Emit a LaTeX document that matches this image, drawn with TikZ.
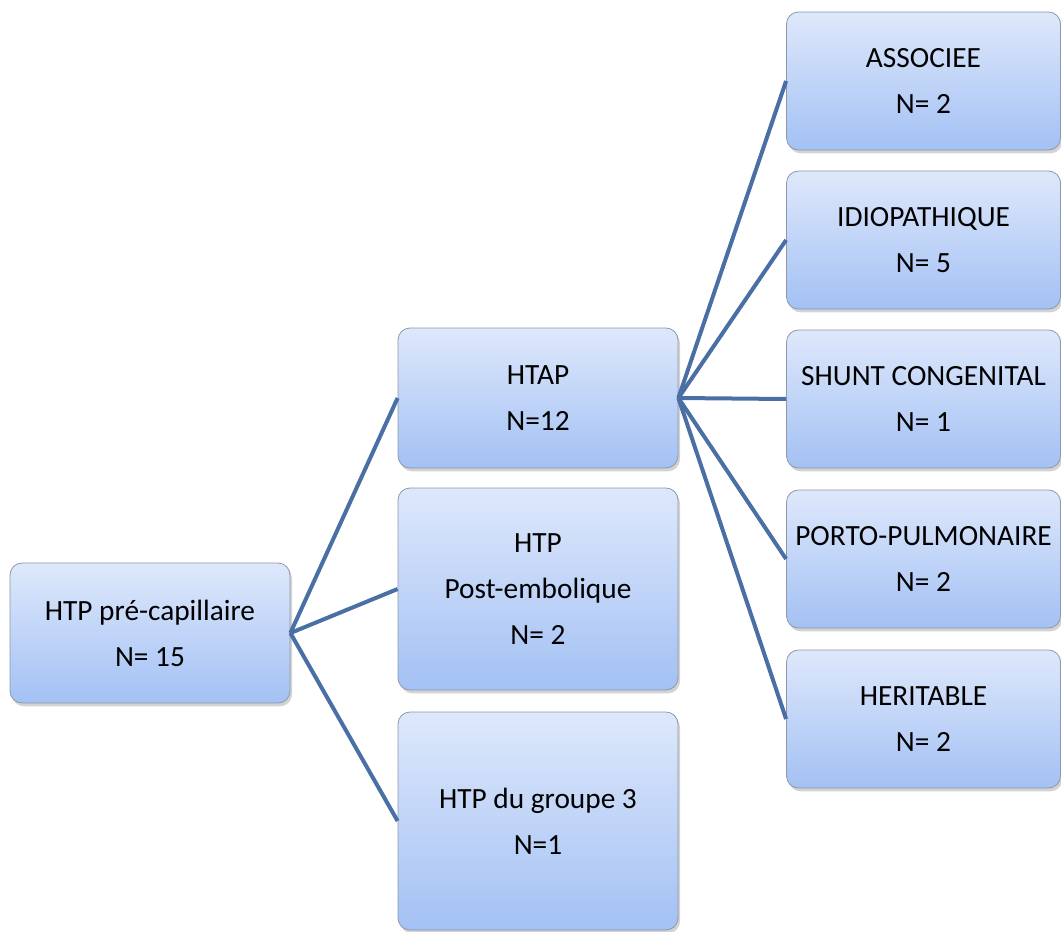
\documentclass[tikz,border=0pt]{standalone}
\usepackage{fontspec}
\setmainfont{Carlito}
\usepackage{xcolor}
\usetikzlibrary{shadows}

\definecolor{boxtop}{RGB}{222,232,251}
\definecolor{boxbot}{RGB}{163,193,244}
\definecolor{boxline}{RGB}{140,152,172}
\definecolor{linkblue}{RGB}{74,111,165}

\tikzset{
    diagbox/.style={rectangle, rounded corners=9pt, draw=boxline, line width=0.6pt,
        top color=boxtop, bottom color=boxbot, align=center,
        font=\fontsize{22}{34.5}\selectfont, inner sep=0pt,
        drop shadow={shadow xshift=1.5pt, shadow yshift=-2.5pt, opacity=0.35}},
    link/.style={draw=linkblue, line width=3pt}
}

\begin{document}
\begin{tikzpicture}[x=0.75pt, y=-0.75pt]
        \useasboundingbox (0, 0) rectangle (1061, 932);

        \node[diagbox, minimum width=210pt, minimum height=105pt] (root) at (150, 633)
            {HTP pré-capillaire\\N= 15};

        \node[diagbox, minimum width=210pt, minimum height=105pt] (htap) at (538, 398)
            {HTAP\\N=12};
        \node[diagbox, minimum width=210pt, minimum height=151.5pt] (post) at (538, 589)
            {HTP\\Post-embolique\\N= 2};
        \node[diagbox, minimum width=210pt, minimum height=163.5pt] (grp) at (538, 821)
            {HTP du groupe 3\\N=1};

        \node[diagbox, minimum width=205.5pt, minimum height=103.5pt] (assoc) at (923.5, 81)
            {ASSOCIEE\\N= 2};
        \node[diagbox, minimum width=205.5pt, minimum height=103.5pt] (idio) at (923.5, 240)
            {IDIOPATHIQUE\\N= 5};
        \node[diagbox, minimum width=205.5pt, minimum height=103.5pt] (shunt) at (923.5, 399)
            {SHUNT CONGENITAL\\N= 1};
        \node[diagbox, minimum width=205.5pt, minimum height=103.5pt] (porto) at (923.5, 559)
            {PORTO-PULMONAIRE\\N= 2};
        \node[diagbox, minimum width=205.5pt, minimum height=103.5pt] (herit) at (923.5, 719)
            {HERITABLE\\N= 2};

        \draw[link] (root.east) -- (htap.west);
        \draw[link] (root.east) -- (post.west);
        \draw[link] (root.east) -- (grp.west);

        \foreach \leaf in {assoc, idio, shunt, porto, herit}
            \draw[link] (htap.east) -- (\leaf.west);
\end{tikzpicture}
\end{document}
